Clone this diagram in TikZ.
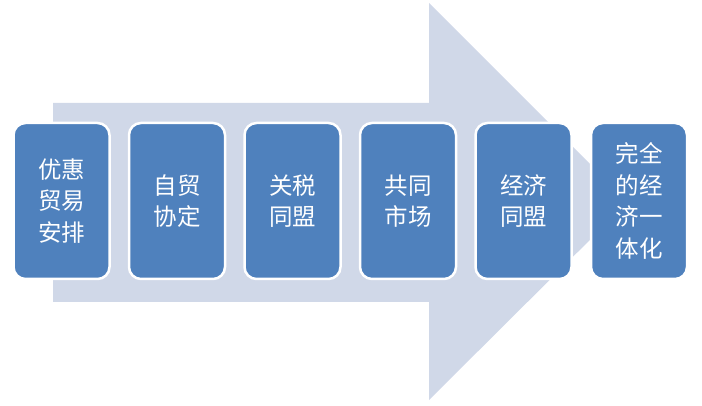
\documentclass[tikz,border=0pt]{standalone}
\usepackage{fontspec}
\usepackage{tikz}
\usetikzlibrary{positioning}
\newfontfamily\cjk{Noto Sans CJK SC}
\definecolor{boxblue}{RGB}{79,129,189}
\definecolor{arrowgray}{RGB}{208,216,232}

\tikzset{
  stage/.style={rectangle, rounded corners=12pt, fill=boxblue,
    draw=white, line width=2.5pt, minimum width=96pt,
    minimum height=156pt, align=center, text=white,
    font=\cjk\fontsize{23.5}{31.5}\selectfont, inner sep=0pt}
}

\begin{document}
\begin{tikzpicture}[x=1pt, y=-1pt]
    \useasboundingbox (0,0) rectangle (702,406);
    % --- big background arrow ---
    \fill[arrowgray] (53,103) -- (429,103) -- (429,3) -- (628,202)
          -- (429,400) -- (429,302) -- (53,302) -- cycle;

    % --- stages ---
    \node[stage] (youhui) at (61.5,201) {优惠\\贸易\\安排};
    \node[stage, right=17pt of youhui] (zimao) {自贸\\协定};
    \node[stage, right=17pt of zimao] (guanshui) {关税\\同盟};
    \node[stage, right=17pt of guanshui] (shichang) {共同\\市场};
    \node[stage, right=17pt of shichang] (jingji) {经济\\同盟};
    \node[stage, right=17pt of jingji] (yitihua) {完全\\的经\\济一\\体化};
  \end{tikzpicture}
\end{document}
